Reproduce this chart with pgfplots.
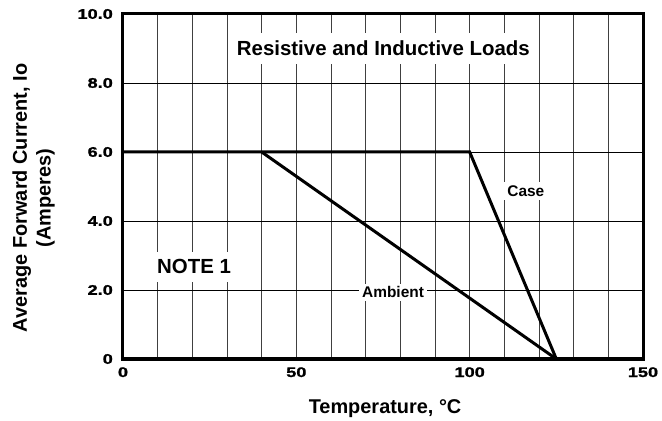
\documentclass[border=0pt]{standalone}
\usepackage{pgfplots}
\pgfplotsset{compat=1.18}
\usepackage{fontspec}
\setmainfont{Liberation Sans}
\newfontfamily\tickfont{Liberation Sans}[FakeStretch=1.3, FakeBold=1.2]
\begin{document}
\begin{tikzpicture}
\path[use as bounding box] (-123bp,-62bp) rectangle (539bp,359bp);
\begin{axis}[
  at={(0,0)}, anchor=south west,
  width=520bp, height=345bp, scale only axis,
  xmin=0, xmax=150, ymin=0, ymax=10,
  xtick={0,50,100,150}, xticklabels={0,50,100,150},
  minor xtick={10,20,30,40,60,70,80,90,110,120,130,140},
  ytick={0,2,4,6,8,10}, yticklabels={0,2.0,4.0,6.0,8.0,10.0},
  major tick length=0pt, minor tick length=0pt,
  xmajorgrids, xminorgrids, ymajorgrids,
  x grid style={black!75, line width=0.9bp},
  minor x grid style={black!75, line width=0.9bp},
  y grid style={black, line width=0.8bp},
  axis line style={line width=3bp},
  tick label style={font=\tickfont\bfseries\fontsize{14}{15}\selectfont},
  xticklabel style={anchor=base, yshift=-18bp, inner sep=0pt},
  yticklabel style={anchor=east, xshift=-10bp, inner sep=0pt},
  xlabel={Temperature, °C},
  xlabel style={at={(axis description cs:0.504,-0.1594)}, anchor=base, inner sep=0pt,
    font=\bfseries\fontsize{20}{24}\selectfont},
  ylabel={Average Forward Current, Io\\(Amperes)},
  ylabel style={at={(axis description cs:-0.172,0.467)}, anchor=center, align=center,
    inner sep=0pt, font=\bfseries\fontsize{20}{24}\selectfont},
]
\addplot[black, line width=3bp, line join=miter] coordinates {(0,6) (100,6) (125,0)};
\addplot[black, line width=3bp] coordinates {(40,6) (125,0)};
\node[fill=white, inner xsep=6bp, inner ysep=8bp, font=\bfseries\fontsize{20.5}{24}\selectfont]
  at (axis cs:75.1,9.0) {Resistive and Inductive Loads};
\node[fill=white, inner xsep=3bp, inner ysep=8bp, font=\bfseries\fontsize{20.5}{24}\selectfont]
  at (axis cs:20.5,2.67) {NOTE 1};
\node[fill=white, inner xsep=3bp, inner ysep=3.5bp, font=\bfseries\fontsize{15.5}{18}\selectfont]
  at (axis cs:116.2,4.87) {Case};
\node[fill=white, inner xsep=3bp, inner ysep=3bp, font=\bfseries\fontsize{15.5}{18}\selectfont]
  at (axis cs:77.9,1.93) {Ambient};
\end{axis}
\end{tikzpicture}
\end{document}
